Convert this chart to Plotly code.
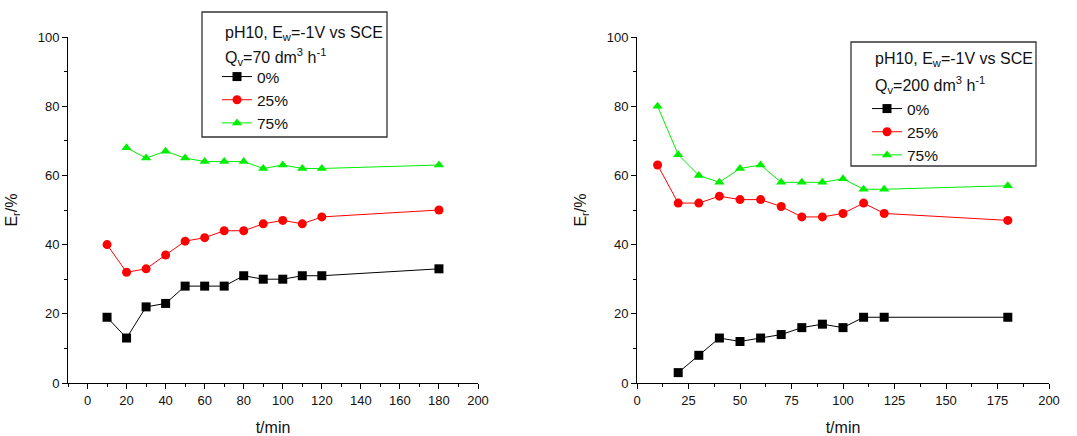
import plotly.graph_objects as go

# ---- data ----
t_left_0 = [10, 20, 30, 40, 50, 60, 70, 80, 90, 100, 110, 120, 180]
e_left_0 = [19, 13, 22, 23, 28, 28, 28, 31, 30, 30, 31, 31, 33]
t_left_25 = [10, 20, 30, 40, 50, 60, 70, 80, 90, 100, 110, 120, 180]
e_left_25 = [40, 32, 33, 37, 41, 42, 44, 44, 46, 47, 46, 48, 50]
t_left_75 = [20, 30, 40, 50, 60, 70, 80, 90, 100, 110, 120, 180]
e_left_75 = [68, 65, 67, 65, 64, 64, 64, 62, 63, 62, 62, 63]

t_right_0 = [20, 30, 40, 50, 60, 70, 80, 90, 100, 110, 120, 180]
e_right_0 = [3, 8, 13, 12, 13, 14, 16, 17, 16, 19, 19, 19]
t_right_25 = [10, 20, 30, 40, 50, 60, 70, 80, 90, 100, 110, 120, 180]
e_right_25 = [63, 52, 52, 54, 53, 53, 51, 48, 48, 49, 52, 49, 47]
t_right_75 = [10, 20, 30, 40, 50, 60, 70, 80, 90, 100, 110, 120, 180]
e_right_75 = [80, 66, 60, 58, 62, 63, 58, 58, 58, 59, 56, 56, 57]

series_names = ["0%", "25%", "75%"]
colors = ["#000000", "#ff0000", "#00ee00"]
symbols = ["square", "circle", "triangle-up"]

left_header = ["pH10, E<sub>w</sub>=-1V vs SCE", "Q<sub>v</sub>=70 dm<sup>3</sup> h<sup>-1</sup>"]
right_header = ["pH10, E<sub>w</sub>=-1V vs SCE", "Q<sub>v</sub>=200 dm<sup>3</sup> h<sup>-1</sup>"]

W, H = 1077, 436
FONT = "Liberation Sans, Arial, sans-serif"


def px(xp):
    return xp / W


def py(yp):
    return (H - yp) / H


fig = go.Figure()

left_data = [(t_left_0, e_left_0), (t_left_25, e_left_25), (t_left_75, e_left_75)]
right_data = [(t_right_0, e_right_0), (t_right_25, e_right_25), (t_right_75, e_right_75)]

for i, (x, y) in enumerate(left_data):
    fig.add_trace(go.Scatter(
        x=x, y=y, name=series_names[i], mode="lines+markers",
        line=dict(color=colors[i], width=1),
        marker=dict(color=colors[i], symbol=symbols[i], size=9),
        xaxis="x", yaxis="y", legend="legend"))

for i, (x, y) in enumerate(right_data):
    fig.add_trace(go.Scatter(
        x=x, y=y, name=series_names[i], mode="lines+markers",
        line=dict(color=colors[i], width=1),
        marker=dict(color=colors[i], symbol=symbols[i], size=9),
        xaxis="x2", yaxis="y2", legend="legend2"))

axis_common = dict(
    showline=True, linecolor="#000", linewidth=1, mirror=False,
    ticks="outside", ticklen=5, tickwidth=1, tickcolor="#000",
    showgrid=False, zeroline=False, automargin=False,
    tickfont=dict(family=FONT, size=13, color="#111"),
    title_font=dict(family=FONT, size=16, color="#111"),
)

ydom = [py(383), py(37)]

legend_common = dict(
    xanchor="left", yanchor="top", borderwidth=0, bgcolor="rgba(0,0,0,0)",
    font=dict(family=FONT, size=15.5, color="#111"),
    tracegroupgap=0, itemwidth=30,
)

annotations = []
for lines, xl, ys in [(left_header, 223, (33, 57)), (right_header, 873, (60, 85))]:
    for txt, yy in zip(lines, ys):
        annotations.append(dict(
            text=txt, xref="paper", yref="paper", x=px(xl), y=py(yy),
            xanchor="left", yanchor="middle", showarrow=False,
            font=dict(family=FONT, size=16, color="#111")))

fig.update_layout(
    width=W, height=H,
    margin=dict(l=0, r=0, t=0, b=0),
    plot_bgcolor="white", paper_bgcolor="white",
    font=dict(family=FONT, color="#111"),
    xaxis=dict(domain=[px(68), px(478)], range=[-10, 200], tick0=0, dtick=20,
               minor=dict(ticks="outside", ticklen=3, dtick=10, tick0=0, tickcolor="#000"),
               title=dict(text="t/min", standoff=16), anchor="y", **axis_common),
    yaxis=dict(domain=ydom, range=[0, 100], dtick=20,
               minor=dict(ticks="outside", ticklen=3, dtick=10, tickcolor="#000"),
               title=dict(text="E<sub>r</sub>/%", standoff=16), anchor="x", **axis_common),
    xaxis2=dict(domain=[px(637), px(1049)], range=[0, 200], dtick=25,
                minor=dict(ticks="outside", ticklen=3, dtick=12.5, tickcolor="#000"),
                title=dict(text="t/min", standoff=16), anchor="y2", **axis_common),
    yaxis2=dict(domain=ydom, range=[0, 100], dtick=20,
                minor=dict(ticks="outside", ticklen=3, dtick=10, tickcolor="#000"),
                title=dict(text="E<sub>r</sub>/%", standoff=16), anchor="x2", **axis_common),
    legend=dict(x=px(217), y=py(60), **legend_common),
    legend2=dict(x=px(867), y=py(92), **legend_common),
    showlegend=True,
    annotations=annotations,
    shapes=[
        dict(type="rect", xref="paper", yref="paper", x0=px(202), x1=px(387), y0=py(137), y1=py(12),
             line=dict(color="#333", width=1.3), fillcolor="rgba(0,0,0,0)", layer="above"),
        dict(type="rect", xref="paper", yref="paper", x0=px(851), x1=px(1036), y0=py(166), y1=py(42),
             line=dict(color="#333", width=1.3), fillcolor="rgba(0,0,0,0)", layer="above"),
    ],
)

fig.write_html("out.html", config={"displayModeBar": False},
               post_script="document.body.style.margin='0';")
